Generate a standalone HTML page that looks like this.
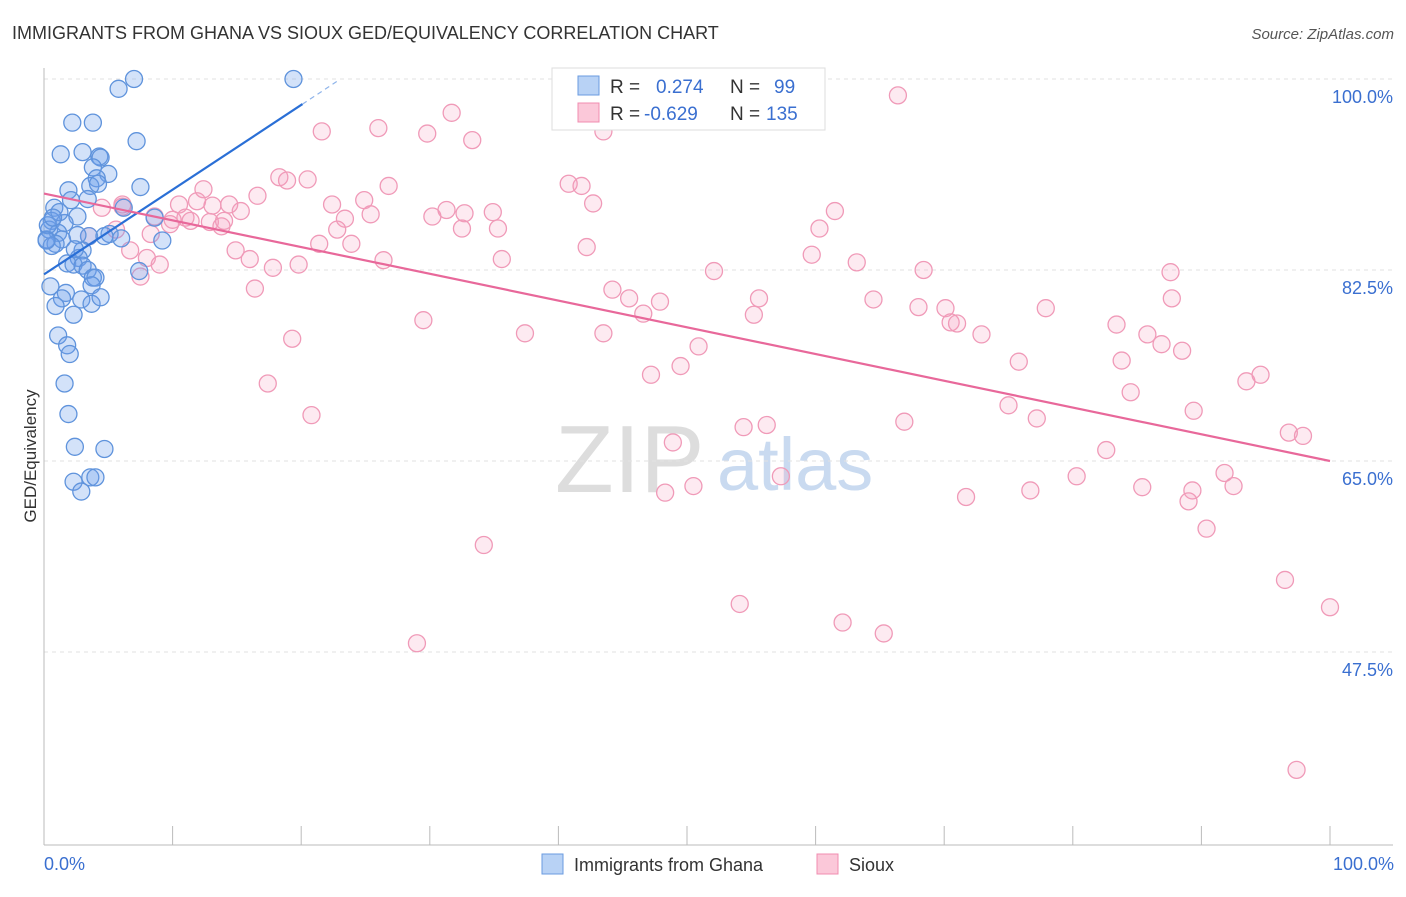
<!DOCTYPE html>
<html><head><meta charset="utf-8"><style>
body{margin:0;background:#fff;font-family:"Liberation Sans",sans-serif;}
svg text{font-family:"Liberation Sans",sans-serif;}
</style></head><body>
<svg id="chart" width="1406" height="892" viewBox="0 0 1406 892" xmlns="http://www.w3.org/2000/svg">
<text x="12" y="39" font-size="18" fill="#333">IMMIGRANTS FROM GHANA VS SIOUX GED/EQUIVALENCY CORRELATION CHART</text>
<text x="1394" y="39" font-size="15" fill="#555" font-style="italic" text-anchor="end">Source: ZipAtlas.com</text>
<g>
<text x="555" y="492" font-size="96" fill="#ddd" font-family="Liberation Serif">ZIP</text>
<text x="717" y="490" font-size="74" fill="#c9daf0">atlas</text>
</g>
<g id="grid"></g>
<g id="axes"></g>
<g id="pts"></g>
<g id="trends"></g>
<text x="36" y="456" font-size="17" fill="#333" text-anchor="middle" transform="rotate(-90 36 456)">GED/Equivalency</text>
<g>
<rect x="552" y="68" width="273" height="62" fill="#fff" stroke="#ddd"/>
<rect x="578" y="76" width="21" height="19" fill="#b8d2f5" stroke="#6a9be0"/>
<rect x="578" y="103" width="21" height="19" fill="#fbc8d9" stroke="#f08cb0"/>
<text x="610" y="93" font-size="19" fill="#333">R = </text>
<text x="656" y="93" font-size="19" fill="#3a6fd0">0.274</text>
<text x="730" y="93" font-size="19" fill="#333">N = </text>
<text x="774" y="93" font-size="19" fill="#3a6fd0">99</text>
<text x="610" y="120" font-size="19" fill="#333">R = </text>
<text x="644" y="120" font-size="19" fill="#3a6fd0">-0.629</text>
<text x="730" y="120" font-size="19" fill="#333">N = </text>
<text x="766" y="120" font-size="19" fill="#3a6fd0">135</text>
</g>
<g>
<rect x="542" y="854" width="21" height="20" fill="#b8d2f5" stroke="#6a9be0"/>
<text x="574" y="871" font-size="18" fill="#333">Immigrants from Ghana</text>
<rect x="817" y="854" width="21" height="20" fill="#fbc8d9" stroke="#f08cb0"/>
<text x="849" y="871" font-size="18" fill="#333">Sioux</text>
</g>
</svg>
<script>
const yTicks=[100,82.5,65,47.5];
const yTickLabels=["100.0%","82.5%","65.0%","47.5%"];
const xTickLabels=["0.0%","100.0%"];
const ghanaX=[7.0,19.4,5.8,2.2,3.8,7.2,1.3,3.0,4.3,4.4,3.8,5.0,4.1,7.5,1.9,3.6,4.2,3.4,2.1,0.8,6.2,2.6,0.6,1.6,0.4,1.1,5.1,0.2,8.6,9.2,3.5,4.7,2.6,1.4,0.9,0.6,3.0,2.7,1.8,2.3,3.0,3.4,3.8,4.0,3.7,0.5,1.7,1.4,2.9,3.7,4.4,0.9,2.3,1.1,1.8,2.0,1.6,1.9,2.4,4.7,2.3,3.6,4.0,2.9,7.4,6.0,1.2,0.3,0.7,0.2,2.4];
const ghanaY=[100,100,99.1,96.0,96.0,94.3,93.1,93.3,92.9,92.8,91.9,91.3,90.9,90.1,89.8,90.2,90.4,89.0,88.9,88.2,88.2,87.4,87.0,86.8,86.2,85.9,85.8,85.3,87.3,85.2,85.6,85.6,85.7,85.3,84.9,84.7,84.3,83.6,83.1,83.0,82.9,82.5,81.8,81.8,81.1,81.0,80.4,79.9,79.8,79.4,80.0,79.2,78.4,76.5,75.6,74.8,72.1,69.3,66.3,66.1,63.1,63.5,63.5,62.2,82.4,85.4,87.8,86.6,87.3,85.2,84.4];
const siouxX=[66.4,31.7,21.6,26.0,29.8,33.3,43.5,40.8,41.8,42.7,26.8,18.3,20.5,18.9,24.9,22.4,23.4,25.4,22.8,23.9,21.4,12.4,16.6,14.4,13.1,11.9,10.5,11.0,10.0,11.4,9.8,12.9,14.0,15.3,8.6,6.1,4.5,5.6,3.5,8.3,14.9,6.7,8.0,9.0,7.5,16.0,17.8,19.8,26.4,30.2,31.3,32.7,32.5,34.9,35.3,35.6,42.2,60.3,61.5,59.7,63.2,52.1,68.4,44.2,45.5,47.9,46.6,55.6,55.2,64.5,68.0,70.1,70.5,71.0,72.9,77.9,87.6,87.7,83.4,85.8,86.9,88.5,83.8,75.8,84.5,93.5,94.6,89.4,75.0,77.2,66.9,56.2,54.4,48.9,50.9,43.5,49.5,47.2,37.4,29.5,19.3,16.4,17.4,20.8,82.6,80.3,76.7,71.7,85.4,89.3,89.0,92.5,91.8,90.4,50.5,48.3,57.3,96.8,97.9,34.2,54.1,62.1,65.3,29.0,96.5,100,97.4,13.8,6.1];
const siouxY=[98.5,96.9,95.2,95.5,95.0,94.4,95.2,90.4,90.2,88.6,90.2,91.0,90.8,90.7,88.9,88.5,87.2,87.6,86.2,84.9,84.9,89.9,89.3,88.5,88.4,88.8,88.5,87.3,87.1,87.0,86.7,86.9,87.0,87.9,87.4,88.5,88.2,86.2,85.6,85.8,84.3,84.3,83.6,83.0,81.9,83.5,82.7,83.0,83.4,87.4,88.0,87.7,86.3,87.8,86.3,83.5,84.6,86.3,87.9,83.9,83.2,82.4,82.5,80.7,79.9,79.6,78.5,79.9,78.4,79.8,79.1,79.0,77.7,77.6,76.6,79.0,82.3,79.9,77.5,76.6,75.7,75.1,74.2,74.1,71.3,72.3,72.9,69.6,70.1,68.9,68.6,68.3,68.1,66.7,75.5,76.7,73.7,72.9,76.7,77.9,76.2,80.8,72.1,69.2,66.0,63.6,62.3,61.7,62.6,62.3,61.3,62.7,63.9,58.8,62.7,62.1,63.6,67.6,67.3,57.3,51.9,50.2,49.2,48.3,54.1,51.6,36.7,86.5,88.3];
const ghanaTrend=[82.1,97.7];   // y at x=0 and x=20.1
const ghanaTrendX=[0,20.1,23.0];
const siouxTrend=[89.5,65.0];   // y at x=0 and x=100

const X0=44,X1=1330,YT=79,PPU=10.914;
const sx=v=>X0+(X1-X0)*v/100;
const sy=v=>YT+(100-v)*PPU;
const NS="http://www.w3.org/2000/svg";
function mk(tag,attrs,parent){const e=document.createElementNS(NS,tag);for(const k in attrs)e.setAttribute(k,attrs[k]);parent.appendChild(e);return e;}
const grid=document.getElementById('grid'),axes=document.getElementById('axes'),pts=document.getElementById('pts'),tr=document.getElementById('trends');
yTicks.forEach((t,i)=>{
  const l=mk('line',{x1:44,x2:1393,y1:sy(t),y2:sy(t),stroke:'#e2e2e2','stroke-dasharray':'4 4'},grid);
  
  
  const tx=mk('text',{x:1393,y:sy(t)+24,'font-size':18,fill:'#3a6fd0','text-anchor':'end'},axes);
  tx.textContent=yTickLabels[i];
  
  
});
const ax=mk('line',{x1:44,x2:44,y1:68,y2:845,stroke:'#bbb'},axes);


const bx=mk('line',{x1:44,x2:1393,y1:845,y2:845,stroke:'#bbb'},axes);


for(let i=0;i<=10;i++){
  const t=mk('line',{x1:sx(i*10),x2:sx(i*10),y1:826,y2:845,stroke:'#bbb'},axes);
  
  
}
const xl0=mk('text',{x:44,y:870,'font-size':18,fill:'#3a6fd0'},axes);xl0.textContent=xTickLabels[0];


const xl1=mk('text',{x:1394,y:870,'font-size':18,fill:'#3a6fd0','text-anchor':'end'},axes);xl1.textContent=xTickLabels[1];


siouxX.forEach((x,i)=>{
  const c=mk('circle',{cx:sx(x),cy:sy(siouxY[i]),r:8.5,fill:'rgba(244,160,190,0.22)',stroke:'#f09ab8','stroke-width':1.3},pts);
  
  
});
ghanaX.forEach((x,i)=>{
  const c=mk('circle',{cx:sx(x),cy:sy(ghanaY[i]),r:8.5,fill:'rgba(110,160,235,0.3)',stroke:'#5f93dc','stroke-width':1.3},pts);
  
  
});
const gy=x=>ghanaTrend[0]+(ghanaTrend[1]-ghanaTrend[0])*x/ghanaTrendX[1];
const g1=mk('line',{x1:sx(ghanaTrendX[0]),y1:sy(gy(ghanaTrendX[0])),x2:sx(ghanaTrendX[1]),y2:sy(gy(ghanaTrendX[1])),stroke:'#2a6fd6','stroke-width':2.2},tr);


const g2=mk('line',{x1:sx(ghanaTrendX[1]),y1:sy(gy(ghanaTrendX[1])),x2:sx(ghanaTrendX[2]),y2:sy(gy(ghanaTrendX[2])),stroke:'#8fb4ea','stroke-width':1.2,'stroke-dasharray':'5 4'},tr);


const s1=mk('line',{x1:sx(0),y1:sy(siouxTrend[0]),x2:sx(100),y2:sy(siouxTrend[1]),stroke:'#e8689a','stroke-width':2.2},tr);


</script>
</body></html>
